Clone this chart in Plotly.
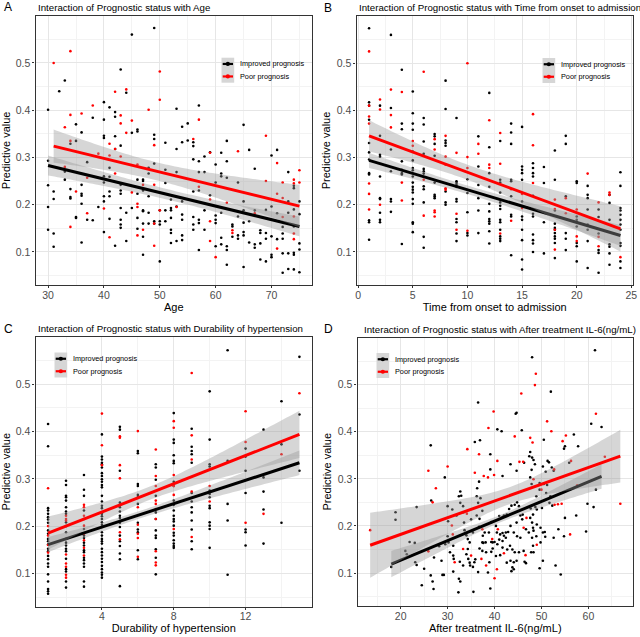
import numpy as np
import plotly.graph_objects as go

# ---------------- DATA ----------------
# Panel A: Age -> predictive values
A_IMPROVED = {
    30: [0.401, 0.293, 0.241, 0.195, 0.147], 31: [0.228, 0.212, 0.139, 0.111], 32: [0.44],
    33: [0.463, 0.27, 0.253], 34: [0.329, 0.233, 0.216, 0.213], 35: [0.37, 0.335, 0.174, 0.172],
    36: [0.353, 0.242, 0.223, 0.219, 0.202, 0.12], 37: [0.29, 0.168], 38: [0.384, 0.167], 39: [0.195],
    40: [0.417, 0.38, 0.346, 0.341, 0.26, 0.247, 0.218, 0.207, 0.142],
    41: [0.406, 0.278, 0.259, 0.228, 0.218, 0.17], 42: [0.396, 0.386, 0.345, 0.318, 0.113],
    43: [0.486, 0.325, 0.242, 0.23, 0.223, 0.193, 0.168, 0.158, 0.151], 44: [0.437, 0.183, 0.123],
    45: [0.56, 0.352, 0.193], 46: [0.359, 0.355, 0.253, 0.223, 0.172, 0.149],
    47: [0.253, 0.25, 0.23, 0.188, 0.186, 0.16, 0.132, 0.094], 48: [0.278, 0.266, 0.218, 0.183, 0.16],
    49: [0.574, 0.348, 0.339, 0.287, 0.165, 0.16], 50: [0.188, 0.165, 0.158, 0.08],
    51: [0.331, 0.274, 0.246, 0.188, 0.165], 52: [0.211, 0.193, 0.188, 0.172, 0.147, 0.14, 0.119],
    53: [0.403, 0.318, 0.269, 0.196, 0.123], 54: [0.365, 0.332, 0.207, 0.179, 0.168, 0.135, 0.125],
    55: [0.372, 0.336], 56: [0.332, 0.324, 0.296, 0.228, 0.174, 0.158, 0.147],
    57: [0.41, 0.292, 0.269, 0.23, 0.168, 0.161, 0.104], 58: [0.302, 0.269, 0.188, 0.147],
    59: [0.311, 0.22], 60: [0.285, 0.247, 0.177, 0.168, 0.161, 0.112],
    61: [0.31, 0.266, 0.26, 0.183, 0.13, 0.116], 62: [0.335, 0.292, 0.257, 0.112, 0.104, 0.073],
    63: [0.158, 0.154, 0.132], 64: [0.247, 0.175, 0.135, 0.128],
    65: [0.369, 0.207, 0.188, 0.162, 0.142, 0.135, 0.068], 66: [0.316, 0.165, 0.12],
    67: [0.276, 0.188, 0.116, 0.109], 68: [0.146, 0.14, 0.118, 0.084], 69: [0.189, 0.14, 0.128, 0.08],
    70: [0.304, 0.196, 0.133, 0.094, 0.089], 71: [0.316, 0.182, 0.127],
    72: [0.153, 0.139, 0.128, 0.097, 0.056], 73: [0.269, 0.207, 0.183, 0.097, 0.064],
    74: [0.24, 0.235, 0.19, 0.154, 0.098, 0.094, 0.063], 75: [0.207, 0.18, 0.118, 0.105, 0.057],
}
A_POOR = {
    31: [0.5], 33: [0.364, 0.28], 34: [0.525, 0.39, 0.335, 0.153], 35: [0.228], 36: [0.393],
    37: [0.257, 0.182], 38: [0.41], 39: [0.308], 40: [0.192], 41: [0.329, 0.304, 0.131],
    42: [0.439, 0.318, 0.266], 43: [0.389, 0.372, 0.302], 44: [0.444, 0.352], 45: [0.378, 0.226],
    46: [0.285, 0.202, 0.195, 0.135], 47: [0.242, 0.147], 48: [0.401], 49: [0.326, 0.242, 0.16, 0.113],
    50: [0.482, 0.422, 0.188], 53: [0.195], 56: [0.339], 57: [0.38, 0.238],
    59: [0.31, 0.211, 0.165, 0.123], 60: [0.089], 62: [0.204], 63: [0.146, 0.14], 64: [0.313],
    67: [0.182], 69: [0.346, 0.25], 71: [0.288, 0.223, 0.107], 72: [0.247, 0.214, 0.174],
    74: [0.253, 0.245, 0.175, 0.139, 0.127], 75: [0.273, 0.247],
}

# Panel B: Time from onset to admission -> predictive values
B_IMPROVED = {
    1: [0.574, 0.417, 0.41, 0.38, 0.331, 0.311, 0.296, 0.267, 0.264, 0.167, 0.163, 0.126],
    2: [0.41, 0.346, 0.306, 0.302, 0.26, 0.214, 0.212, 0.183, 0.168, 0.163],
    3: [0.56, 0.405, 0.317, 0.271, 0.212, 0.207, 0.185],
    4: [0.486, 0.372, 0.36, 0.292, 0.274, 0.267, 0.264, 0.117],
    5: [0.44, 0.394, 0.372, 0.359, 0.313, 0.294, 0.278, 0.273, 0.26, 0.247, 0.238, 0.232, 0.226,
        0.212, 0.202, 0.163, 0.16, 0.142],
    6: [0.384, 0.37, 0.334, 0.308, 0.276, 0.271, 0.266, 0.259, 0.239, 0.233, 0.205, 0.132, 0.109],
    7: [0.35, 0.345, 0.329, 0.304, 0.247, 0.221, 0.218, 0.214],
    8: [0.463, 0.403, 0.336, 0.331, 0.325, 0.228, 0.205, 0.2],
    9: [0.384, 0.25, 0.246, 0.242, 0.238, 0.212, 0.207, 0.17, 0.163, 0.139, 0.123],
    10: [0.254, 0.225, 0.184, 0.14, 0.135],
    11: [0.345, 0.281, 0.242, 0.214, 0.188, 0.14],
    12: [0.437, 0.322, 0.267, 0.238, 0.202, 0.186, 0.17, 0.165, 0.16, 0.144, 0.118],
    13: [0.335, 0.253, 0.247, 0.226, 0.205, 0.198, 0.191, 0.168, 0.163, 0.147, 0.133, 0.128, 0.123],
    14: [0.372, 0.353, 0.329, 0.253, 0.25, 0.218, 0.179, 0.175, 0.093],
    15: [0.365, 0.281, 0.274, 0.267, 0.253, 0.207, 0.175, 0.168, 0.147, 0.125, 0.084, 0.063],
    16: [0.288, 0.278, 0.267, 0.26, 0.219, 0.181, 0.175, 0.137, 0.125, 0.118, 0.1],
    17: [0.28, 0.246, 0.163, 0.097],
    18: [0.315, 0.253, 0.188, 0.16, 0.151, 0.147, 0.14, 0.133, 0.128, 0.119, 0.087],
    19: [0.346, 0.329, 0.218, 0.14, 0.128, 0.104],
    20: [0.25, 0.246, 0.175, 0.168, 0.163, 0.154, 0.119, 0.112, 0.08],
    21: [0.24, 0.221, 0.214, 0.19, 0.158, 0.147, 0.123, 0.066],
    22: [0.19, 0.174, 0.139, 0.104, 0.098, 0.056],
    23: [0.221, 0.204, 0.168, 0.116, 0.111, 0.097, 0.073],
    24: [0.269, 0.24, 0.193, 0.188, 0.179, 0.168, 0.158, 0.147, 0.119, 0.113, 0.08, 0.066],
}
B_POOR = {
    1: [0.525, 0.41, 0.387, 0.372, 0.245, 0.223, 0.19], 2: [0.423, 0.402, 0.2], 3: [0.444, 0.39, 0.364],
    4: [0.439, 0.247, 0.209], 5: [0.335, 0.325], 6: [0.482, 0.253, 0.177],
    7: [0.339, 0.317, 0.188, 0.184, 0.175], 8: [0.346, 0.302, 0.285, 0.235, 0.232],
    9: [0.31, 0.181, 0.147], 10: [0.5, 0.301, 0.278, 0.145], 11: [0.329, 0.308],
    12: [0.379, 0.285, 0.278], 13: [0.352, 0.287, 0.139], 14: [0.233, 0.166], 15: [0.223, 0.193],
    16: [0.392, 0.326, 0.246], 18: [0.211, 0.191, 0.147, 0.105], 19: [0.214, 0.182],
    20: [0.19, 0.133, 0.123], 21: [0.266], 22: [0.205, 0.132, 0.112], 23: [0.226, 0.221], 24: [0.089],
}

# Panel C: Durability of hypertension -> predictive values
C_IMPROVED = {
    1: [0.416, 0.369, 0.238, 0.233, 0.226, 0.219, 0.214, 0.207, 0.191, 0.184, 0.173, 0.168, 0.161,
        0.152, 0.147, 0.137, 0.13, 0.121, 0.114, 0.098, 0.083, 0.067, 0.062, 0.057],
    2: [0.296, 0.287, 0.264, 0.261, 0.254, 0.24, 0.231, 0.226, 0.208, 0.2, 0.187, 0.173, 0.165,
        0.159, 0.152, 0.147, 0.131, 0.109, 0.104, 0.083, 0.07],
    3: [0.308, 0.277, 0.264, 0.233, 0.215, 0.194, 0.18, 0.175, 0.165, 0.159, 0.149, 0.145, 0.133,
        0.128, 0.121, 0.114, 0.083, 0.072],
    4: [0.394, 0.347, 0.341, 0.334, 0.331, 0.324, 0.312, 0.306, 0.299, 0.294, 0.287, 0.282, 0.264,
        0.252, 0.243, 0.238, 0.226, 0.221, 0.215, 0.208, 0.203, 0.198, 0.187, 0.18, 0.173, 0.168,
        0.163, 0.152, 0.145, 0.138, 0.131, 0.124, 0.116, 0.109, 0.102, 0.097, 0.091],
    5: [0.41, 0.404, 0.317, 0.25, 0.245, 0.24, 0.231, 0.222, 0.217, 0.207, 0.198, 0.18, 0.168,
        0.158, 0.142, 0.13, 0.073],
    6: [0.359, 0.354, 0.289, 0.285, 0.266, 0.261, 0.247, 0.207, 0.193, 0.187, 0.149, 0.13],
    7: [0.331, 0.324, 0.298, 0.264, 0.229, 0.215, 0.191, 0.18, 0.175, 0.151, 0.133, 0.098],
    8: [0.439, 0.383, 0.376, 0.35, 0.338, 0.333, 0.294, 0.285, 0.254, 0.245, 0.233, 0.222, 0.215,
        0.21, 0.201, 0.186, 0.18, 0.17, 0.163, 0.158, 0.154],
    9: [0.406, 0.368, 0.359, 0.352, 0.334, 0.27, 0.252, 0.24, 0.229, 0.212, 0.193, 0.168, 0.151],
    10: [0.485, 0.383, 0.331, 0.326, 0.275, 0.268, 0.261, 0.243, 0.238, 0.208, 0.201, 0.194, 0.154],
    11: [0.572, 0.338, 0.247, 0.212, 0.097],
    12: [0.364, 0.347, 0.317, 0.27, 0.193, 0.187, 0.159],
    13: [0.404, 0.303, 0.273, 0.235, 0.163],
    14: [0.464, 0.373, 0.207],
    15: [0.558, 0.436, 0.317],
}
C_POOR = {
    1: [0.28, 0.2, 0.18, 0.16, 0.144], 2: [0.222, 0.215, 0.212, 0.14, 0.121, 0.114, 0.097, 0.091],
    3: [0.245, 0.24, 0.222, 0.201, 0.184, 0.17, 0.154, 0.138], 4: [0.438, 0.371, 0.329],
    5: [0.39, 0.387, 0.329, 0.301, 0.187, 0.172], 6: [0.401, 0.24, 0.203, 0.184, 0.175, 0.135],
    7: [0.362, 0.306, 0.285, 0.254, 0.247, 0.236, 0.215, 0.147, 0.123, 0.117],
    8: [0.422, 0.408, 0.308, 0.285, 0.266, 0.194], 9: [0.524, 0.392, 0.341, 0.273, 0.177],
    10: [0.285, 0.252], 12: [0.443, 0.378, 0.207], 13: [0.226], 14: [0.352], 15: [0.481],
}

# Panel D: (After treatment IL-6, predictive value)
D_IMPROVED = [
    (18.9, 0.229), (18.9, 0.213), (18.0, 0.113), (21.0, 0.147), (21.3, 0.140), (21.9, 0.166),
    (23.0, 0.164), (23.1, 0.123), (23.4, 0.117), (23.4, 0.240), (24.5, 0.074), (25.0, 0.109),
    (26.4, 0.371), (26.5, 0.254), (26.4, 0.095), (26.8, 0.082), (27.0, 0.066), (27.1, 0.133),
    (28.2, 0.157), (28.7, 0.126), (28.9, 0.096), (29.2, 0.096), (29.4, 0.303), (30.0, 0.242),
    (30.1, 0.210), (30.0, 0.178), (30.2, 0.165), (29.5, 0.161), (31.2, 0.137), (31.3, 0.130),
    (31.2, 0.103), (32.4, 0.088), (32.7, 0.082), (32.3, 0.059), (32.7, 0.273), (32.9, 0.264),
    (32.4, 0.263), (32.7, 0.249), (33.3, 0.242), (33.4, 0.229), (33.5, 0.207), (33.6, 0.191),
    (34.0, 0.180), (34.3, 0.151), (34.0, 0.140), (34.4, 0.130), (34.7, 0.122), (34.8, 0.116),
    (35.4, 0.113), (35.7, 0.123), (35.9, 0.129), (35.8, 0.378), (36.9, 0.382), (36.7, 0.294),
    (36.3, 0.280), (37.0, 0.259), (36.2, 0.263), (36.5, 0.249), (36.2, 0.222), (37.4, 0.232),
    (36.8, 0.215), (36.7, 0.198), (37.9, 0.186), (37.5, 0.179), (37.4, 0.165), (37.6, 0.164),
    (38.1, 0.165), (37.4, 0.147), (38.2, 0.144), (36.8, 0.152), (36.5, 0.102), (35.5, 0.060),
    (39.1, 0.320), (39.1, 0.352), (36.5, 0.462), (38.8, 0.186), (39.3, 0.166), (38.9, 0.123),
    (39.1, 0.067), (38.6, 0.101), (39.6, 0.152), (39.3, 0.145), (31.9, 0.222), (31.0, 0.235),
    (35.0, 0.214), (35.4, 0.186), (34.3, 0.172), (34.7, 0.165), (32.6, 0.124), (33.3, 0.116),
    (31.2, 0.158), (30.5, 0.144),
    (61.4, 0.573), (48.0, 0.558), (52.0, 0.485), (44.5, 0.438), (44.7, 0.440), (60.6, 0.417),
    (62.8, 0.410), (45.8, 0.403), (40.6, 0.405), (41.5, 0.401), (56.9, 0.394), (50.5, 0.383),
    (57.8, 0.369), (55.0, 0.369), (54.8, 0.364), (47.6, 0.357), (47.4, 0.348), (48.0, 0.345),
    (48.3, 0.340), (46.3, 0.334), (43.4, 0.331), (41.7, 0.306), (44.7, 0.317), (48.6, 0.331),
    (47.9, 0.319), (55.9, 0.334), (50.3, 0.326), (50.9, 0.315), (51.3, 0.338), (51.6, 0.335),
    (52.2, 0.324), (52.6, 0.317), (47.6, 0.303), (47.9, 0.289), (49.6, 0.291), (49.6, 0.277),
    (50.5, 0.289), (51.2, 0.287), (51.9, 0.263), (51.0, 0.270), (48.9, 0.263), (61.6, 0.277),
    (59.8, 0.247), (61.1, 0.240), (51.7, 0.249), (52.3, 0.243), (50.1, 0.238), (49.0, 0.235),
    (48.7, 0.240), (47.7, 0.237), (48.2, 0.224), (45.2, 0.242), (44.8, 0.250), (44.3, 0.245),
    (43.6, 0.243), (43.1, 0.236), (42.6, 0.224), (42.0, 0.222), (41.7, 0.219), (41.0, 0.221),
    (45.5, 0.222), (46.0, 0.224), (45.9, 0.214), (47.6, 0.217), (39.3, 0.208), (40.3, 0.200),
    (40.5, 0.186), (41.2, 0.182), (41.7, 0.185), (42.4, 0.186), (42.9, 0.187), (42.0, 0.179),
    (42.4, 0.175), (41.7, 0.168), (41.0, 0.171), (40.0, 0.166), (39.6, 0.165), (43.4, 0.200),
    (44.7, 0.207), (44.1, 0.186), (44.8, 0.178), (45.5, 0.175), (46.7, 0.193), (48.0, 0.207),
    (48.2, 0.196), (49.0, 0.203), (49.8, 0.196), (50.3, 0.186), (50.7, 0.187), (50.8, 0.177),
    (52.6, 0.175), (53.6, 0.193), (54.8, 0.178), (57.4, 0.222), (59.5, 0.188), (55.0, 0.217),
    (48.0, 0.175), (48.9, 0.178), (49.8, 0.165), (40.6, 0.161), (41.7, 0.154), (42.7, 0.150),
    (43.3, 0.158), (43.8, 0.150), (44.3, 0.144), (45.2, 0.144), (46.2, 0.147), (47.8, 0.144),
    (48.3, 0.144), (41.2, 0.138), (40.3, 0.136), (43.4, 0.126), (42.6, 0.122), (44.1, 0.123),
    (44.7, 0.126), (46.4, 0.124), (46.7, 0.121), (43.8, 0.112), (44.1, 0.108), (43.6, 0.104),
    (50.3, 0.126), (49.6, 0.110), (53.0, 0.116), (54.1, 0.097), (48.3, 0.190), (47.3, 0.186),
    (48.2, 0.158),
]
D_POOR = [
    (13.5, 0.191), (25.9, 0.317), (25.9, 0.146), (26.8, 0.250), (27.5, 0.280), (30.0, 0.326),
    (30.9, 0.201), (31.1, 0.182), (31.5, 0.123), (35.0, 0.137), (34.2, 0.363), (34.1, 0.226),
    (36.7, 0.352), (37.4, 0.193), (37.2, 0.130), (35.8, 0.313), (37.7, 0.306), (38.6, 0.303),
    (38.7, 0.408), (39.8, 0.443), (39.5, 0.172), (38.2, 0.116), (33.3, 0.151),
    (48.8, 0.523), (48.6, 0.499), (45.7, 0.481), (61.6, 0.438), (51.2, 0.422), (52.1, 0.401),
    (44.3, 0.390), (55.2, 0.392), (47.6, 0.387), (54.5, 0.380), (48.1, 0.377), (40.6, 0.338),
    (45.3, 0.336), (46.1, 0.336), (56.3, 0.338), (39.9, 0.308), (63.5, 0.347), (52.7, 0.320),
    (48.3, 0.299), (50.0, 0.277), (57.6, 0.286), (66.8, 0.247), (52.8, 0.245), (53.5, 0.246),
    (54.3, 0.247), (46.8, 0.217), (40.7, 0.193), (46.2, 0.196), (56.1, 0.182), (49.0, 0.160),
    (46.6, 0.138), (42.0, 0.142), (40.5, 0.108), (40.0, 0.089),
]

# Fitted lines (ends) and 95% CI half-widths (left end, narrowest, right end)
FIT_A_IMP = {"x": [30, 75], "y": [0.283, 0.154], "half": [0.021, 0.011, 0.021]}
FIT_A_POOR = {"x": [31, 75], "y": [0.324, 0.197], "half": [0.035, 0.019, 0.045]}
FIT_B_IMP = {"x": [1, 24], "y": [0.294, 0.135], "half": [0.016, 0.009, 0.022]}
FIT_B_POOR = {"x": [1, 24], "y": [0.346, 0.149], "half": [0.033, 0.016, 0.048]}
FIT_C_IMP = {"x": [1, 15], "y": [0.161, 0.334], "half": [0.016, 0.008, 0.026]}
FIT_C_POOR = {"x": [1, 15], "y": [0.185, 0.394], "half": [0.035, 0.014, 0.050]}
FIT_D_IMP = {"x": [18.0, 62.8], "y": [0.119, 0.305], "half": [0.028, 0.008, 0.026]}
FIT_D_POOR = {"x": [13.5, 66.8], "y": [0.159, 0.348], "half": [0.069, 0.018, 0.056]}

Y_TICKS = [0.1, 0.2, 0.3, 0.4, 0.5]
Y_TICK_LABELS = ["0.1", "0.2", "0.3", "0.4", "0.5"]
A_X_TICKS = [30, 40, 50, 60, 70]
B_X_TICKS = [0, 5, 10, 15, 20, 25]
C_X_TICKS = [4, 8, 12]
D_X_TICKS = [20, 30, 40, 50, 60]

LETTERS = ["A", "B", "C", "D"]
TITLES = [
    "Interaction of Prognostic status with Age",
    "Interaction of Prognostic status with Time from onset to admission",
    "Interaction of Prognostic status with Durability of hypertension",
    "Interaction of Prognostic status with After treatment IL-6(ng/mL)",
]
X_TITLES = ["Age", "Time from onset to admission", "Durability of hypertension",
            "After treatment IL-6(ng/mL)"]
Y_TITLE = "Predictive value"
LEGEND_LABELS = ["Improved prognosis", "Poor prognosis"]

# ---------------- STYLE / LAYOUT ----------------
W, H = 640, 637
FONT = "Liberation Sans, Arial, sans-serif"
COL_IMP, COL_POOR = "#000000", "#ff0000"
BAND_FILL = "rgba(153,153,153,0.4)"

# plot panels in pixels: (left, right, top, bottom)
PANELS = [(35.5, 312.0, 15.7, 285.0), (356.5, 633.0, 16.0, 285.0),
          (35.5, 312.0, 337.0, 606.5), (357.5, 633.0, 337.5, 606.0)]
X_RANGES = [[27.75, 77.25], [-0.15, 25.15], [0.3, 15.7], [10.8, 69.5]]
X_MINOR = [5, 2.5, 2, 5]
X_TICKS = [A_X_TICKS, B_X_TICKS, C_X_TICKS, D_X_TICKS]
Y_RANGE = [0.030, 0.600]


def px(x):
    return x / W


def py(y):
    return 1 - y / H


def expand(d):
    xs, ys = [], []
    for k, vals in d.items():
        for v in vals:
            xs.append(k)
            ys.append(v)
    return xs, ys


def unzip(pairs):
    return [p[0] for p in pairs], [p[1] for p in pairs]


def band(fit, n=80):
    (x0, x1), (y0, y1), (hl, hc, hr) = fit["x"], fit["y"], fit["half"]
    a = np.sqrt(max(hl ** 2 - hc ** 2, 1e-12))
    b = np.sqrt(max(hr ** 2 - hc ** 2, 1e-12))
    xc = (a * x1 + b * x0) / (a + b)
    k = ((a + b) / (x1 - x0)) ** 2
    xs = np.linspace(x0, x1, n)
    yl = y0 + (y1 - y0) * (xs - x0) / (x1 - x0)
    h = np.sqrt(hc ** 2 + k * (xs - xc) ** 2)
    return xs, yl - h, yl + h


series = [
    (expand(A_IMPROVED), expand(A_POOR), FIT_A_IMP, FIT_A_POOR),
    (expand(B_IMPROVED), expand(B_POOR), FIT_B_IMP, FIT_B_POOR),
    (expand(C_IMPROVED), expand(C_POOR), FIT_C_IMP, FIT_C_POOR),
    (unzip(D_IMPROVED), unzip(D_POOR), FIT_D_IMP, FIT_D_POOR),
]

fig = go.Figure()

for i, (imp, poor, fimp, fpoor) in enumerate(series):
    sfx = "" if i == 0 else str(i + 1)
    xa, ya = "x" + sfx, "y" + sfx
    fig.add_trace(go.Scatter(x=imp[0], y=imp[1], mode="markers", xaxis=xa, yaxis=ya,
                             marker=dict(size=2.6, color=COL_IMP), showlegend=False))
    fig.add_trace(go.Scatter(x=poor[0], y=poor[1], mode="markers", xaxis=xa, yaxis=ya,
                             marker=dict(size=2.6, color=COL_POOR), showlegend=False))
    for fit, col in ((fimp, COL_IMP), (fpoor, COL_POOR)):
        xs, lo, hi = band(fit)
        fig.add_trace(go.Scatter(x=np.concatenate([xs, xs[::-1]]),
                                 y=np.concatenate([hi, lo[::-1]]),
                                 fill="toself", fillcolor=BAND_FILL, mode="none",
                                 xaxis=xa, yaxis=ya, showlegend=False, hoverinfo="skip"))
        fig.add_trace(go.Scatter(x=fit["x"], y=fit["y"], mode="lines", xaxis=xa, yaxis=ya,
                                 line=dict(color=col, width=3), showlegend=False))

layout = dict(width=W, height=H, margin=dict(l=0, r=0, t=0, b=0),
              paper_bgcolor="white", plot_bgcolor="white",
              font=dict(family=FONT, color="#1a1a1a"), showlegend=False)

annotations = []
shapes = []
for i, (l, r, t, b) in enumerate(PANELS):
    sfx = "" if i == 0 else str(i + 1)
    axis_common = dict(showline=True, mirror=True, linecolor="#333333", linewidth=1.2,
                       gridcolor="#e6e6e6", gridwidth=1, zeroline=False,
                       ticks="outside", ticklen=2, tickcolor="#333333", tickwidth=1,
                       tickfont=dict(size=10.5, color="#4d4d4d", family=FONT),
                       automargin=False)
    layout["xaxis" + sfx] = dict(
        domain=[px(l), px(r)], range=X_RANGES[i], anchor="y" + sfx,
        tickmode="array", tickvals=X_TICKS[i], ticktext=[str(v) for v in X_TICKS[i]],
        ticklabelstandoff=-2,
        minor=dict(dtick=X_MINOR[i], tick0=0, showgrid=True, gridcolor="#f3f3f3", gridwidth=0.6,
                   ticks=""),
        title=dict(text=X_TITLES[i], font=dict(size=11, color="#000000", family=FONT), standoff=2),
        **axis_common)
    layout["yaxis" + sfx] = dict(
        domain=[py(b), py(t)], range=Y_RANGE, anchor="x" + sfx,
        tickmode="array", tickvals=Y_TICKS, ticktext=Y_TICK_LABELS,
        minor=dict(dtick=0.05, tick0=0, showgrid=True, gridcolor="#f3f3f3", gridwidth=0.6,
                   ticks=""),
        title=dict(text=Y_TITLE, font=dict(size=11, color="#000000", family=FONT), standoff=3),
        **axis_common)

    letter_x = 1.5 if i in (0, 2) else 322.0
    title_x = l if i != 3 else 361.5
    ty = t - 8.5
    annotations.append(dict(text=LETTERS[i], x=px(letter_x), y=py(ty), xref="paper", yref="paper",
                            xanchor="left", yanchor="middle", showarrow=False,
                            font=dict(size=12, color="#000000", family=FONT)))
    annotations.append(dict(text=TITLES[i], x=px(title_x), y=py(ty), xref="paper", yref="paper",
                            xanchor="left", yanchor="middle", showarrow=False,
                            font=dict(size=9.7, color="#000000", family=FONT)))

    if i < 2:
        kx0, ky0 = r - 90.5, t + 42.0
    else:
        kx0, ky0 = l + 19.0, t + 15.5
    kw, kh = 12.7, 12.5
    shapes.append(dict(type="rect", xref="paper", yref="paper", layer="above",
                       x0=px(kx0), x1=px(kx0 + kw), y0=py(ky0 + 2 * kh), y1=py(ky0),
                       fillcolor="#d6d6d6", line=dict(width=0)))
    for j, (lab, col) in enumerate(zip(LEGEND_LABELS, (COL_IMP, COL_POOR))):
        cy = ky0 + kh * (j + 0.5)
        shapes.append(dict(type="line", xref="paper", yref="paper", layer="above",
                           x0=px(kx0 + 1.2), x1=px(kx0 + kw - 1.2), y0=py(cy), y1=py(cy),
                           line=dict(color=col, width=2.2)))
        cx = kx0 + kw / 2
        shapes.append(dict(type="circle", xref="paper", yref="paper", layer="above",
                           x0=px(cx - 2.1), x1=px(cx + 2.1), y0=py(cy + 2.1), y1=py(cy - 2.1),
                           fillcolor=col, line=dict(width=0)))
        annotations.append(dict(text=lab, x=px(kx0 + kw + 4.0), y=py(cy), xref="paper",
                                yref="paper", xanchor="left", yanchor="middle", showarrow=False,
                                font=dict(size=7.3, color="#000000", family=FONT)))

layout["annotations"] = annotations
layout["shapes"] = shapes
fig.update_layout(**layout)
fig.write_html("out.html", config={"displayModeBar": False},
               post_script="document.body.style.margin='0px';"
                           "document.body.style.overflow='hidden';")
